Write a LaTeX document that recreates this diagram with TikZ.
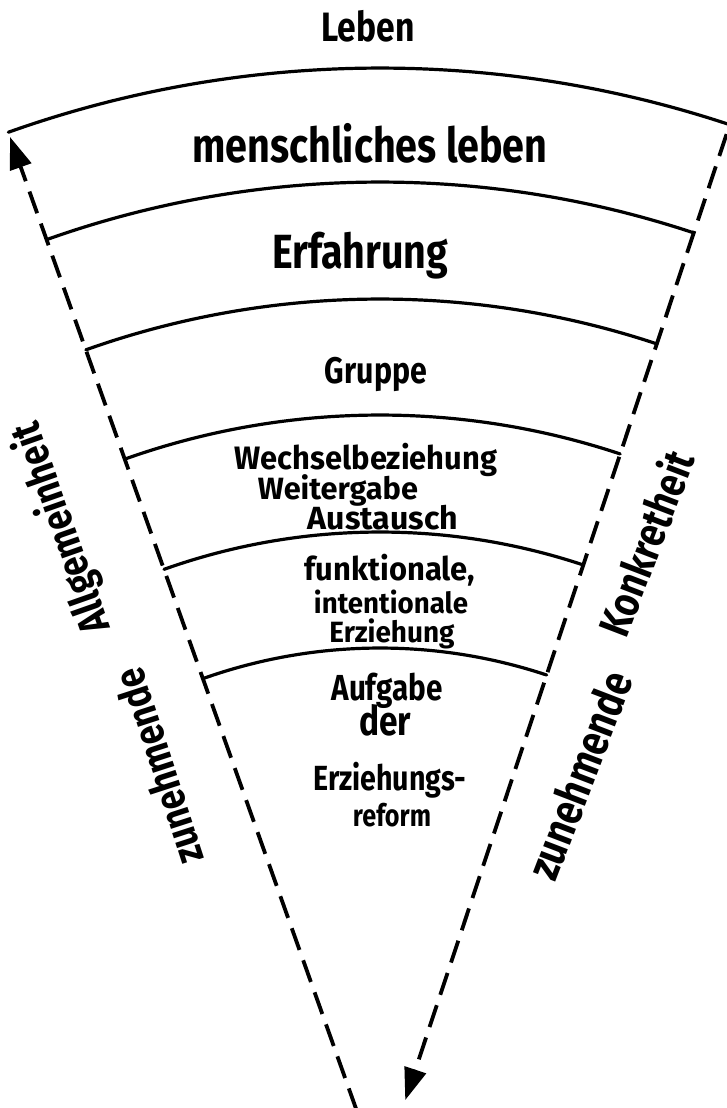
\documentclass[tikz,border=0pt]{standalone}
\usepackage{fontspec}
\setmainfont{Fira Sans}
\usetikzlibrary{arrows.meta}
\newcommand{\hwfit}[3][1.22]{\resizebox{#2}{!}{\scalebox{1}[#1]{\bfseries #3}}}
\begin{document}
\begin{tikzpicture}[x=1pt,y=1pt,
  arcline/.style={line width=3.2pt, line cap=round},
  axisline/.style={line width=3.8pt, dash pattern=on 23pt off 11pt, -{Triangle[length=32pt,width=22pt]}},
  lbl/.style={inner sep=0pt, anchor=base},
  rotlbl/.style={inner sep=0pt, anchor=center}
]
\fill[white] (0,0) rectangle (727,-1108);
\useasboundingbox (0,0) rectangle (727,-1108);
\coordinate (O) at (380,-1176);
% arcs
\foreach \r in {1108,994,877,761,644,528}{
  \draw[arcline] ([shift={(71.6:\r)}]O) arc[start angle=71.6, end angle=109.6, radius=\r];
}
% dashed axes
\coordinate (Lbot) at ([shift={(109.6:70)}]O);
\coordinate (Ltop) at ([shift={(109.6:1103)}]O);
\coordinate (Rtop) at ([shift={(71.6:1098)}]O);
\coordinate (Rbot) at ([shift={(71.6:80)}]O);
\draw[axisline] (Lbot) -- (Ltop);
\draw[axisline] (Rtop) -- (Rbot);
% labels
\node[lbl] (leben) at (368,-42) {\hwfit{93pt}{Leben}};
\node[lbl] (mensch) at (370,-162) {\hwfit{355pt}{menschliches leben}};
\node[lbl] (erf) at (360,-268) {\hwfit{176pt}{Erfahrung}};
\node[lbl] (gruppe) at (376,-383) {\hwfit{102pt}{Gruppe}};
\node[lbl] (wechsel) at (366,-469) {\hwfit[1.05]{262pt}{Wechselbeziehung}};
\node[lbl] (weiter) at (338,-499) {\hwfit[1.0]{160pt}{Weitergabe}};
\node[lbl] (aust) at (383,-529) {\hwfit[1.0]{150pt}{Austausch}};
\node[lbl] (funk) at (390,-580) {\hwfit[1.05]{170pt}{funktionale,}};
\node[lbl] (inten) at (391,-613) {\hwfit[1.05]{154pt}{intentionale}};
\node[lbl] (erz) at (392,-642) {\hwfit[1.05]{125pt}{Erziehung}};
\node[lbl] (aufg) at (387,-700) {\hwfit{111pt}{Aufgabe}};
\node[lbl] (der) at (385,-735) {\hwfit{52pt}{der}};
\node[lbl] (erzs) at (390,-790) {\hwfit{153pt}{Erziehungs-}};
\node[lbl] (reform) at (392,-826) {\hwfit{78pt}{reform}};
% side labels
\node[rotlbl, rotate=108] (zl) at (158,-767) {\hwfit{203pt}{zunehmende}};
\node[rotlbl, rotate=109.4] (allg) at (62,-528) {\hwfit{220pt}{Allgemeinheit}};
\node[rotlbl, rotate=69] (zr) at (579,-775) {\hwfit{218pt}{zunehmende}};
\node[rotlbl, rotate=69] (konk) at (645,-543) {\hwfit{194pt}{Konkretheit}};
\end{tikzpicture}
\end{document}
